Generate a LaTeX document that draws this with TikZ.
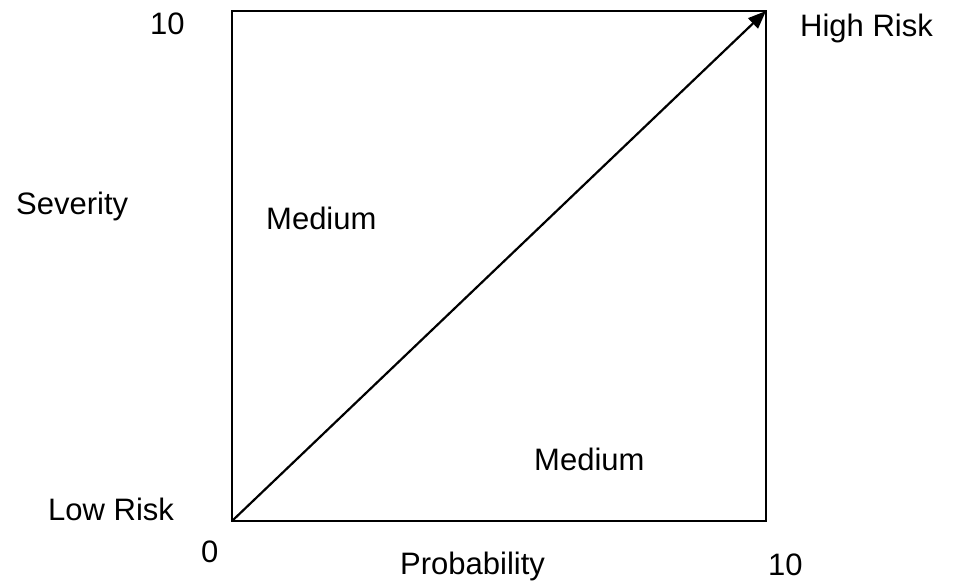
\documentclass[tikz,border=0pt]{standalone}
\usepackage{fontspec}
\setmainfont{Liberation Sans}
\usetikzlibrary{arrows.meta}

\begin{document}
\begin{tikzpicture}[x=1pt, y=-1pt,
        lbl/.style={anchor=base west, inner sep=0pt, font=\fontsize{31}{36}\selectfont},
        frame/.style={draw, line width=2.2pt},
    ]
        \useasboundingbox (0,0) rectangle (955,582);

        % Frame corners
        \coordinate (ll) at (232,521);
        \coordinate (ur) at (766,11);
        \draw[frame] (ll) rectangle (ur);

        % Risk arrow
        \draw[line width=2.2pt, -{Triangle[length=18pt, width=14pt]}] (ll) -- (ur);

        % Axis labels
        \node[lbl] (ymax)  at (150,34)  {10};
        \node[lbl] (high)  at (800,36)  {High Risk};
        \node[lbl] (sev)   at (16,214)  {Severity};
        \node[lbl] (med1)  at (266,229) {Medium};
        \node[lbl] (med2)  at (534,470) {Medium};
        \node[lbl] (low)   at (48,520)  {Low Risk};
        \node[lbl] (zero)  at (201,562) {0};
        \node[lbl] (prob)  at (400,574) {Probability};
        \node[lbl] (xmax)  at (768,575) {10};
    \end{tikzpicture}
\end{document}
